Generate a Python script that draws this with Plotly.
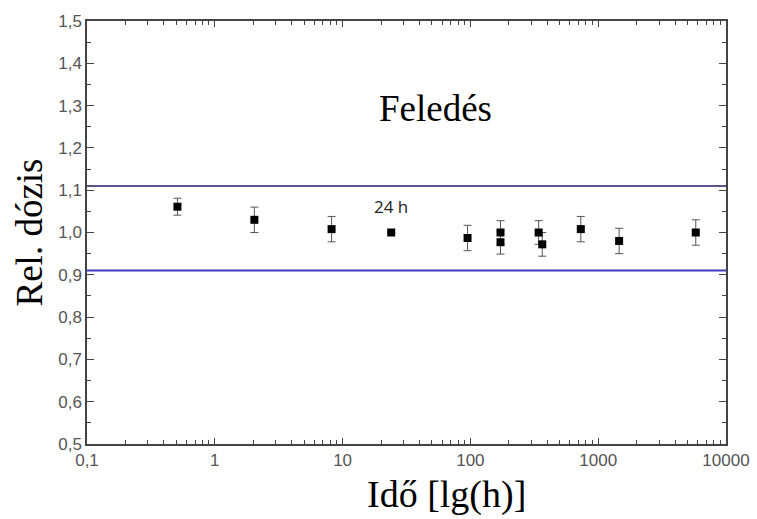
import math
import plotly.graph_objects as go

# Data
time_h = [0.51, 2.04, 8.2, 24, 95, 172, 172, 342, 365, 731, 1458, 5800]
rel_dose = [1.061, 1.030, 1.008, 1.000, 0.987, 1.000, 0.977, 1.000, 0.972, 1.008, 0.980, 1.000]
dose_err = [0.020, 0.030, 0.030, 0.0, 0.030, 0.028, 0.028, 0.028, 0.028, 0.030, 0.030, 0.030]

upper_limit = 1.11
lower_limit = 0.91
x_range_vals = [0.1, 10000]

x_tick_vals = [0.1, 1, 10, 100, 1000, 10000]
x_tick_text = ["0,1", "1", "10", "100", "1000", "10000"]
x_minor_vals = [m * d for d in [0.1, 1, 10, 100, 1000] for m in range(2, 10)]
y_tick_vals = [0.5, 0.6, 0.7, 0.8, 0.9, 1.0, 1.1, 1.2, 1.3, 1.4, 1.5]
y_tick_text = ["0,5", "0,6", "0,7", "0,8", "0,9", "1,0", "1,1", "1,2", "1,3", "1,4", "1,5"]

label_24h_x = 24

fig = go.Figure()

fig.add_trace(go.Scatter(
    x=x_range_vals, y=[upper_limit, upper_limit], mode="lines",
    line=dict(color="#55558f", width=2), showlegend=False, hoverinfo="skip"))
fig.add_trace(go.Scatter(
    x=x_range_vals, y=[lower_limit, lower_limit], mode="lines",
    line=dict(color="#3c3cc0", width=2), showlegend=False, hoverinfo="skip"))

fig.add_trace(go.Scatter(
    x=time_h, y=rel_dose, mode="markers",
    marker=dict(symbol="square", size=8, color="black"),
    error_y=dict(type="data", array=dose_err, visible=True, color="#555555",
                 thickness=1, width=4),
    showlegend=False))

serif = "Liberation Serif, Times New Roman, serif"

fig.add_annotation(x=math.log10(label_24h_x), y=1.0, xref="x", yref="y", text="24 h",
                   showarrow=False, yshift=26,
                   font=dict(family="Open Sans, DejaVu Sans, sans-serif",
                             size=17, color="#222222"))
fig.add_annotation(x=0.546, y=1.294, xref="x domain", yref="y", text="Feledés",
                   showarrow=False, font=dict(family=serif, size=37, color="black"))
fig.add_annotation(x=0.563, y=-0.12, xref="x domain", yref="y domain",
                   text="Idő [lg(h)]", showarrow=False, yanchor="middle",
                   font=dict(family=serif, size=38, color="black"))

axis_common = dict(
    showline=True, linecolor="#444444", linewidth=1.5, mirror="ticks",
    ticks="inside", tickcolor="#444444", showgrid=False, zeroline=False,
    automargin=False,
    tickfont=dict(family="Liberation Sans, Arial, sans-serif", size=17, color="#555555"),
)

fig.update_layout(
    width=757, height=519,
    margin=dict(l=87, r=31, t=21, b=75),
    paper_bgcolor="white", plot_bgcolor="white",
    separators=",.",
    xaxis=dict(
        type="log", range=[-1, 4], tickvals=x_tick_vals, ticktext=x_tick_text,
        ticklen=6,
        minor=dict(ticks="inside", ticklen=4, tickcolor="#444444", tickvals=x_minor_vals),
        **axis_common),
    yaxis=dict(
        range=[0.5, 1.5], tickvals=y_tick_vals, ticktext=y_tick_text,
        ticklen=7,
        minor=dict(ticks="inside", ticklen=4, tickcolor="#444444", dtick=0.05),
        title=dict(text="Rel. dózis", standoff=4,
                   font=dict(family=serif, size=37, color="black")),
        **axis_common),
)

fig.write_html("out.html")
